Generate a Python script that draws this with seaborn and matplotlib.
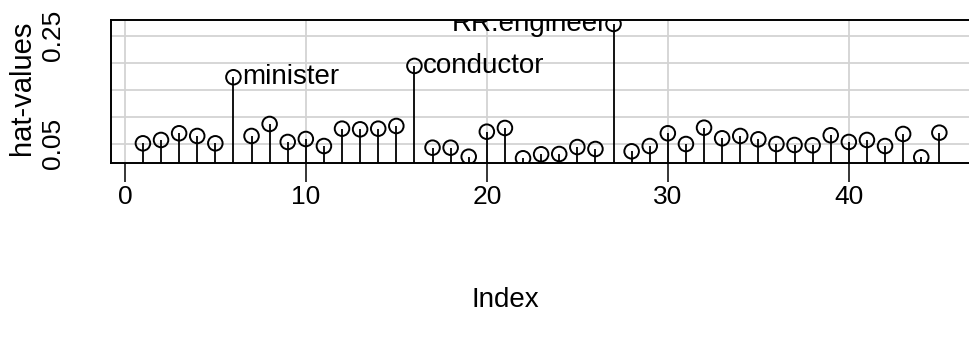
import matplotlib
matplotlib.use("Agg")
import matplotlib.pyplot as plt
import seaborn as sns
import numpy as np
import pandas as pd

# ---- data ----
obs_index = list(range(1, 46))
hat_values = [0.0507, 0.0569, 0.0693, 0.0643, 0.0507, 0.1730, 0.0643, 0.0865,
              0.0532, 0.0587, 0.0457, 0.0778, 0.0766, 0.0778, 0.0828, 0.1940,
              0.0426, 0.0426, 0.0259, 0.0722, 0.0791, 0.0230, 0.0304, 0.0309,
              0.0438, 0.0402, 0.2717, 0.0359, 0.0457, 0.0693, 0.0494, 0.0796,
              0.0600, 0.0643, 0.0581, 0.0494, 0.0476, 0.0470, 0.0656, 0.0532,
              0.0569, 0.0457, 0.0680, 0.0248, 0.0704]
label_index = [6, 16, 27]
label_names = ["minister", "conductor", "RR.engineer"]
label_side = ["right", "right", "left"]
x_ticks = [0, 10, 20, 30, 40]
y_ticks = [0.05, 0.10, 0.15, 0.20, 0.25]
y_ticklabels = ["0.05", "", "", "", "0.25"]

df = pd.DataFrame({"Index": obs_index, "hat": hat_values})

W, H = 969, 339
sns.set_style("white")
plt.rcParams["font.family"] = ["Liberation Sans", "DejaVu Sans"]
plt.rcParams["text.color"] = "black"
plt.rcParams["xtick.color"] = "black"
plt.rcParams["ytick.color"] = "black"
plt.rcParams["xtick.bottom"] = True
fig = plt.figure(figsize=(W / 100, H / 100), dpi=100)

left, right, top, bottom = 110.7, 971.2, 20.0, 163.3
ax = fig.add_axes([left / W, 1 - bottom / H, (right - left) / W, (bottom - top) / H])

ax.set_xlim(-0.78, 46.76)
ax.set_ylim(0.0137, 0.279)

# grid
for xv in x_ticks:
    ax.axvline(xv, color="#D3D3D3", lw=1.3, zorder=0)
for yv in y_ticks:
    ax.axhline(yv, color="#D3D3D3", lw=1.3, zorder=0)

# stems
ax.vlines(df["Index"], 0, df["hat"], color="black", lw=1.3, zorder=2)
# points
sns.scatterplot(data=df, x="Index", y="hat", ax=ax, marker="o", s=110,
                facecolor="none", edgecolor="black", linewidth=1.4, zorder=3,
                legend=False)

# labels
for i, name, side in zip(label_index, label_names, label_side):
    yv = hat_values[i - 1]
    if side == "right":
        ax.annotate(name, (i, yv), xytext=(6, 0), textcoords="offset points",
                    ha="left", va="center", fontsize=20, color="black",
                    clip_on=True)
    else:
        ax.annotate(name, (i, yv), xytext=(-4.5, 0), textcoords="offset points",
                    ha="right", va="center", fontsize=20, color="black",
                    clip_on=True)

# spines
for s in ["left", "top", "bottom"]:
    ax.spines[s].set_visible(True)
    ax.spines[s].set_color("black")
    ax.spines[s].set_linewidth(1.4)
ax.spines["right"].set_visible(False)

ax.set_xticks(x_ticks)
ax.set_xticklabels([str(v) for v in x_ticks], fontsize=19)
ax.tick_params(axis="x", bottom=True, direction="out", length=13.7, width=1.1,
               color="black", labelcolor="black", pad=2)
ax.set_yticks(y_ticks)
ax.set_yticklabels(y_ticklabels, fontsize=19, rotation=90, va="center")
ax.tick_params(axis="y", left=False, length=0, pad=33, labelcolor="black")
ax.set_xlabel("")
ax.set_ylabel("")

fig.text(505 / W, 1 - 300 / H, "Index", ha="center", va="center", fontsize=20,
         color="black")
fig.text(22 / W, 1 - 88 / H, "hat-values", ha="center", va="center",
         rotation=90, fontsize=21, color="black")

fig.savefig("out.png", dpi=100)
